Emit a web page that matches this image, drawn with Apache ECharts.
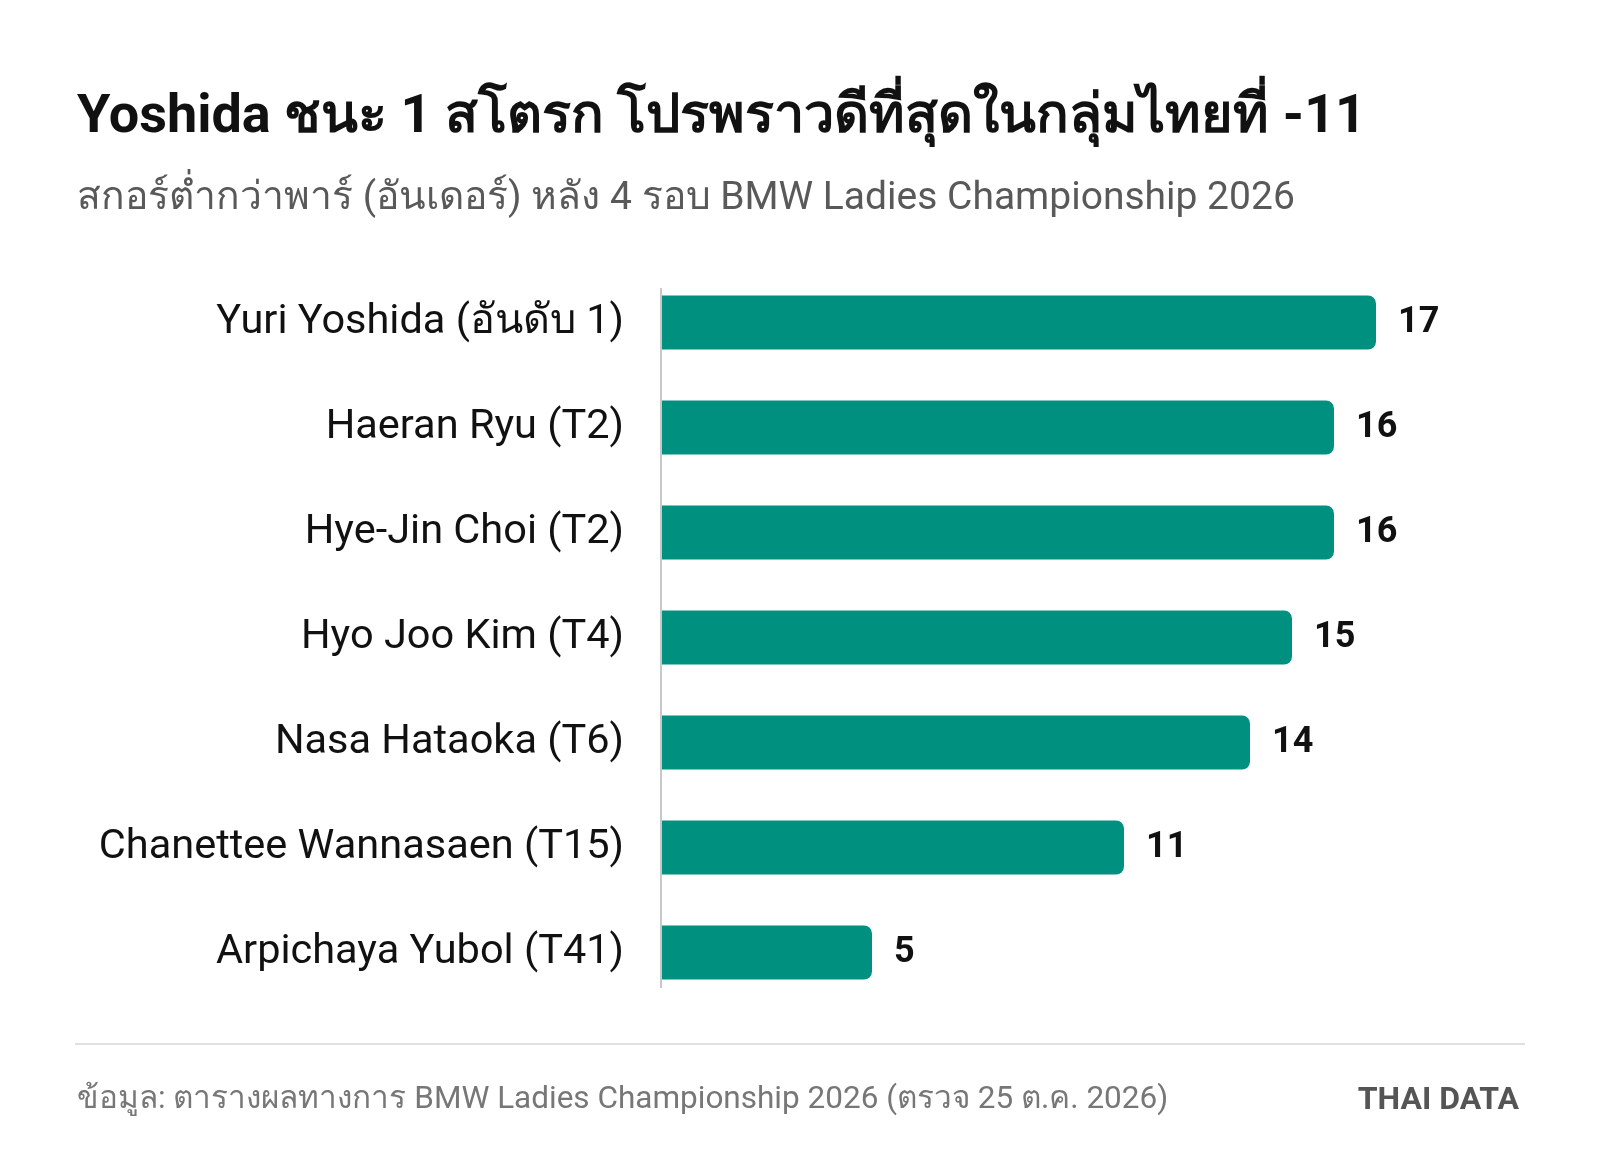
<!DOCTYPE html>
<html lang="th">
<head>
    <meta charset="UTF-8">
    <title>Yoshida BMW Ladies Championship</title>
    <style>
        html, body { margin: 0; padding: 0; background: #fff; }
        #main { width: 1600px; height: 1173px; }
    </style>
</head>
<body>
    <div id="main"></div>
</body>
<script src="https://cdn.jsdelivr.net/npm/echarts@6/dist/echarts.min.js"></script>
<script>
    var players = [
        'Yuri Yoshida (อันดับ 1)',
        'Haeran Ryu (T2)',
        'Hye-Jin Choi (T2)',
        'Hyo Joo Kim (T4)',
        'Nasa Hataoka (T6)',
        'Chanettee Wannasaen (T15)',
        'Arpichaya Yubol (T41)'
    ]
    var underPar = [17, 16, 16, 15, 14, 11, 5]

    var font = 'Roboto, "Noto Sans", "DejaVu Sans", sans-serif'
    var main = echarts.init(document.getElementById('main'))

    var option = {
        backgroundColor: '#fff',
        animation: false,
        title: [
            {
                text: 'Yoshida ชนะ 1 สโตรก โปรพราวดีที่สุดในกลุ่มไทยที่ -11',
                left: 72, top: 86,
                textStyle: { fontFamily: font, fontSize: 54, fontWeight: 'bold', color: '#111' }
            },
            {
                text: 'สกอร์ต่ำกว่าพาร์ (อันเดอร์) หลัง 4 รอบ BMW Ladies Championship 2026',
                left: 72, top: 175,
                textStyle: { fontFamily: font, fontSize: 39, fontWeight: 'normal', color: '#595959' }
            },
            {
                text: 'ข้อมูล: ตารางผลทางการ BMW Ladies Championship 2026 (ตรวจ 25 ต.ค. 2026)',
                left: 72, top: 1079,
                textStyle: { fontFamily: font, fontSize: 31.5, fontWeight: 'normal', color: '#777' }
            },
            {
                text: 'THAI DATA',
                right: 76, top: 1080,
                textStyle: { fontFamily: font, fontSize: 32, fontWeight: 'bold', color: '#555' }
            }
        ],
        grid: { left: 662, right: 98, top: 270, height: 735, containLabel: false },
        xAxis: {
            type: 'value', min: 0, max: 20,
            show: false
        },
        yAxis: {
            type: 'category',
            data: players,
            inverse: true,
            axisLine: { show: false },
            axisTick: { show: false },
            axisLabel: {
                margin: 38,
                fontFamily: font, fontSize: 41.5, color: '#111'
            }
        },
        series: [
            {
                type: 'bar',
                data: underPar,
                barWidth: 54,
                itemStyle: { color: '#009080', borderRadius: [0, 8, 8, 0] },
                label: {
                    show: true, position: 'right', distance: 22,
                    fontFamily: font, fontSize: 36, fontWeight: 'bold', color: '#111'
                }
            }
        ],
        graphic: [
            {
                type: 'line', z: 10,
                shape: { x1: 661, y1: 288, x2: 661, y2: 988 },
                style: { stroke: '#c8c8c8', lineWidth: 2 }
            },
            {
                type: 'line',
                shape: { x1: 75, y1: 1044, x2: 1525, y2: 1044 },
                style: { stroke: '#e0e0e0', lineWidth: 2 }
            }
        ]
    }
    main.setOption(option)
</script>
</html>
